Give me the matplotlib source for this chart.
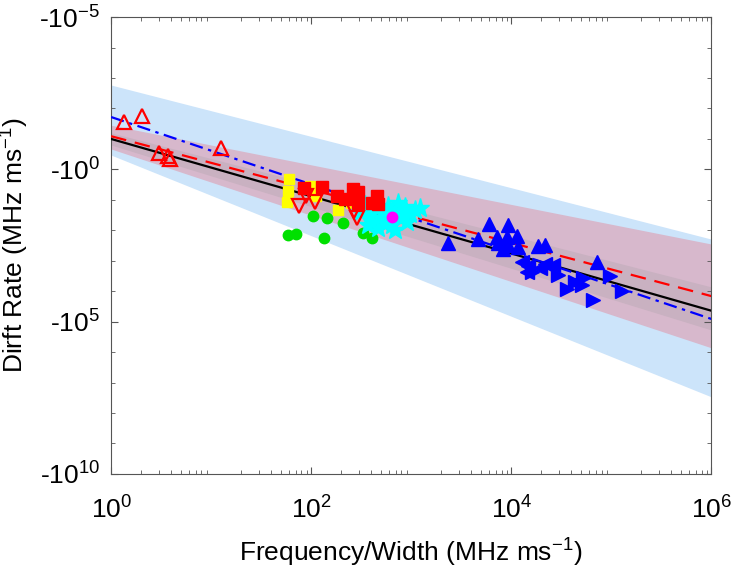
import numpy as np
import matplotlib
matplotlib.use('Agg')
import matplotlib.pyplot as plt
from matplotlib.ticker import FixedLocator, FuncFormatter, NullFormatter

plt.rcParams['font.family'] = ['Liberation Sans', 'DejaVu Sans']
plt.rcParams['mathtext.fontset'] = 'custom'
plt.rcParams['mathtext.rm'] = 'Liberation Sans'
plt.rcParams['mathtext.it'] = 'Liberation Sans'
plt.rcParams['mathtext.bf'] = 'Liberation Sans'

# all values are log10; y is log10 |drift rate|
# fits: intercept, slope in log-log space
fit_all = (-1.00, 0.94)     # black solid
fit_red = (-1.09, 0.875)    # red dashed
fit_blue = (-1.72, 1.105)   # blue dash-dot

# bands: (upper intercept, upper slope), (lower intercept, lower slope)
band_blue = ((-2.77, 0.843), (-0.47, 1.323))
band_red = ((-1.45, 0.65), (-0.67, 1.088))
band_grey = ((-1.20, 0.843), (-0.80, 1.012))

# open red up triangles
tri_up_open_x = [0.13, 0.31, 0.48, 0.57, 0.59, 1.10]
tri_up_open_y = [-1.55, -1.75, -0.54, -0.44, -0.34, -0.70]

# yellow squares
ysq_x = [1.78, 1.77, 1.76, 1.99, 2.05, 2.27, 2.40]
ysq_y = [0.32, 0.71, 1.07, 0.55, 0.87, 1.33, 1.10]

# red filled squares
rsq_x = [1.93, 2.11, 2.26, 2.34, 2.42, 2.47, 2.47, 2.61, 2.66, 2.67]
rsq_y = [0.61, 0.58, 0.87, 0.97, 0.64, 0.74, 1.10, 1.10, 0.87, 1.14]

# open red down triangles
tri_dn_x = [1.88, 1.95, 2.04, 2.43, 2.46]
tri_dn_y = [1.20, 0.87, 1.07, 1.37, 1.60]

# green circles
grn_x = [2.02, 2.16, 2.32, 1.77, 1.85, 2.13, 2.52, 2.61]
grn_y = [1.53, 1.60, 1.76, 2.15, 2.12, 2.25, 2.09, 2.25]

# cyan stars
star_x = [2.49, 2.54, 2.59, 2.61, 2.66, 2.69, 2.72, 2.74, 2.77, 2.79, 2.81, 2.84,
          2.87, 2.89, 2.92, 2.94, 2.96, 2.99, 3.04, 3.09, 2.67, 2.84, 2.57, 2.75]
star_y = [1.40, 1.17, 1.50, 1.73, 1.27, 1.60, 1.40, 1.79, 1.20, 1.50, 1.83, 1.33,
          1.10, 1.60, 1.40, 1.24, 1.73, 1.47, 1.33, 1.27, 1.92, 1.99, 1.83, 1.60]

# magenta circle
mag_x = [2.81]
mag_y = [1.56]

# blue up triangles
bup_x = [3.37, 3.67, 3.78, 3.97, 3.86, 3.96, 4.06, 3.87, 3.97, 3.92, 4.07, 4.27, 4.34, 4.86]
bup_y = [2.42, 2.29, 1.79, 1.83, 2.22, 2.22, 2.19, 2.42, 2.48, 2.61, 2.55, 2.52, 2.48, 3.04]

# blue right triangles
brt_x = [4.47, 4.56, 4.72, 4.71, 4.99, 5.11, 4.82, 4.21, 4.64]
brt_y = [3.47, 3.93, 3.57, 3.80, 3.50, 3.99, 4.29, 3.37, 3.70]

# blue left triangles
blt_x = [4.11, 4.17, 4.34, 4.42, 4.16, 4.29]
blt_y = [3.04, 3.17, 3.11, 3.14, 3.37, 3.24]


def p(v):
    return 10.0 ** np.asarray(v)


def line(fit, lx):
    return p(fit[0] + fit[1] * lx)


fig = plt.figure(figsize=(7.31, 5.71), dpi=100)
ax = fig.add_axes([0.152, 0.170, 0.821, 0.800])

lx = np.linspace(0, 6, 200)
xs = p(lx)

for band, col in [(band_blue, '#CCE4FA'), (band_red, '#D7B8CC'), (band_grey, '#C9B1C1')]:
    ax.fill_between(xs, line(band[0], lx), line(band[1], lx), color=col, lw=0, zorder=1)

ax.plot(xs, line(fit_all, lx), color='black', lw=1.6, zorder=3)
ax.plot(xs, line(fit_red, lx), color='red', lw=1.6, ls=(0, (7, 4)), zorder=3)
ax.plot(xs, line(fit_blue, lx), color='blue', lw=1.6, ls=(0, (6, 2.5, 1.5, 2.5)), zorder=3)

ax.plot(p(tri_up_open_x), p(tri_up_open_y), '^', ms=10, mfc='none', mec='red', mew=1.6, zorder=4)
ax.plot(p(ysq_x), p(ysq_y), 's', ms=7.5, color='#FFFF00', mec='#FFFF00', zorder=4)
ax.plot(p(rsq_x), p(rsq_y), 's', ms=8, color='red', zorder=5)
ax.plot(p(tri_dn_x), p(tri_dn_y), 'v', ms=10, mfc='none', mec='red', mew=1.6, zorder=5)
ax.plot(p(grn_x), p(grn_y), 'o', ms=7.5, color='#00E000', zorder=4)
ax.plot(p(star_x), p(star_y), '*', ms=14, color='cyan', mec='cyan', zorder=4)
ax.plot(p(mag_x), p(mag_y), 'o', ms=7.5, color='magenta', zorder=5)
ax.plot(p(bup_x), p(bup_y), '^', ms=10, color='blue', zorder=4)
ax.plot(p(brt_x), p(brt_y), '>', ms=10, color='blue', zorder=4)
ax.plot(p(blt_x), p(blt_y), '<', ms=10, color='blue', zorder=4)

ax.set_xscale('log')
ax.set_yscale('log')
ax.set_xlim(1, 1e6)
ax.set_ylim(1e10, 1e-5)

ax.yaxis.set_major_locator(FixedLocator([1e-5, 1e0, 1e5, 1e10]))
ax.yaxis.set_major_formatter(FuncFormatter(lambda v, pos: '-$10^{%d}$' % round(np.log10(v))))
ax.yaxis.set_minor_locator(FixedLocator(p(np.arange(-5, 11))))
ax.yaxis.set_minor_formatter(NullFormatter())
ax.xaxis.set_major_locator(FixedLocator([1, 1e2, 1e4, 1e6]))
ax.xaxis.set_major_formatter(FuncFormatter(lambda v, pos: '$10^{%d}$' % round(np.log10(v))))

for s in ax.spines.values():
    s.set_color('#555555')
    s.set_linewidth(0.8)
ax.tick_params(which='both', direction='in', top=True, right=True, color='#555555')
ax.tick_params(which='major', length=5, labelsize=19, pad=8)
ax.tick_params(axis='x', which='major', pad=16)
ax.tick_params(which='minor', length=3)

ax.set_xlabel('Frequency/Width (MHz ms$^{-1}$)', fontsize=19, labelpad=10)
ax.set_ylabel('Dirft Rate (MHz ms$^{-1}$)', fontsize=19, labelpad=6)

fig.savefig('out.png', dpi=100)
